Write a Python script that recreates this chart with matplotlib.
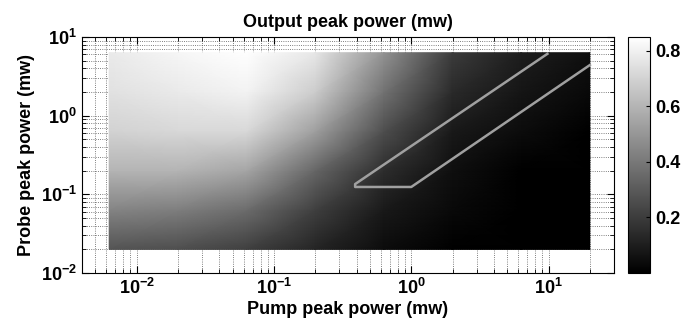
import numpy as np
import matplotlib
matplotlib.use('Agg')
import matplotlib.pyplot as plt
from matplotlib.ticker import LogLocator, NullFormatter

plt.rcParams['font.family'] = ['Liberation Sans', 'DejaVu Sans']
plt.rcParams['font.weight'] = 'bold'
plt.rcParams['mathtext.fontset'] = 'custom'
plt.rcParams['mathtext.rm'] = 'Liberation Sans:bold'
plt.rcParams['mathtext.bf'] = 'Liberation Sans:bold'
plt.rcParams['mathtext.it'] = 'Liberation Sans:bold'

# grid nodes (log10 of power, mw) where the output level was read
pump_log = [-2.2, -1.7, -1.2, -0.7, -0.2, 0.3, 0.8, 1.3]
probe_log = [-1.7, -1.2, -0.7, -0.2, 0.3, 0.8]

# output peak power, rows = probe (bottom to top)
output_power = [
    [0.28, 0.26, 0.21, 0.12, 0.04, 0.00, 0.00, 0.00],
    [0.44, 0.42, 0.36, 0.21, 0.085, 0.03, 0.00, 0.00],
    [0.60, 0.60, 0.55, 0.34, 0.15, 0.05, 0.00, 0.00],
    [0.70, 0.72, 0.72, 0.53, 0.26, 0.085, 0.04, 0.00],
    [0.75, 0.78, 0.81, 0.68, 0.38, 0.14, 0.07, 0.03],
    [0.78, 0.82, 0.85, 0.77, 0.49, 0.20, 0.10, 0.05],
]

# boundary of the operating region (gray outline)
region_pump = [9.8, 0.39, 0.39, 1.0, 20.0]
region_probe = [6.1, 0.135, 0.124, 0.124, 4.4]

pump = 10.0 ** np.array(pump_log)
probe = 10.0 ** np.array(probe_log)
P, Q = np.meshgrid(pump, probe)
Z = np.array(output_power)

fig = plt.figure(figsize=(6.91, 3.32), dpi=100)
ax = fig.add_axes([0.1187, 0.1777, 0.77, 0.711])
cax = fig.add_axes([0.9088, 0.1777, 0.032, 0.711])

ax.set_xscale('log')
ax.set_yscale('log')
ax.set_xlim(0.004, 30)
ax.set_ylim(0.01, 10)

ax.set_axisbelow(True)
ax.grid(True, which='major', linestyle=':', color='#555555', linewidth=0.6)
ax.grid(True, which='minor', linestyle=':', color='#555555', linewidth=0.6)

mesh = ax.pcolormesh(P, Q, Z, shading='gouraud', cmap='gray', vmin=0.0, vmax=0.85, zorder=2)
ax.plot(region_pump, region_probe, color='#a0a0a0', linewidth=1.8, zorder=3)

ax.xaxis.set_major_locator(LogLocator(base=10, numticks=10))
ax.yaxis.set_major_locator(LogLocator(base=10, numticks=10))
ax.xaxis.set_minor_locator(LogLocator(base=10, subs=np.arange(2, 10), numticks=20))
ax.yaxis.set_minor_locator(LogLocator(base=10, subs=np.arange(2, 10), numticks=20))
ax.xaxis.set_minor_formatter(NullFormatter())
ax.yaxis.set_minor_formatter(NullFormatter())
ax.tick_params(which='both', direction='in', top=True, right=True, labelsize=13)
ax.tick_params(which='major', length=5)
ax.tick_params(which='minor', length=3)
for lab in ax.get_xticklabels() + ax.get_yticklabels():
    lab.set_fontweight('bold')

ax.set_title('Output peak power (mw)', fontsize=13, fontweight='bold', pad=7)
ax.set_xlabel('Pump peak power (mw)', fontsize=13, fontweight='bold', labelpad=2)
ax.set_ylabel('Probe peak power (mw)', fontsize=13, fontweight='bold', labelpad=4)

cb = fig.colorbar(mesh, cax=cax)
cb.set_ticks([0.2, 0.4, 0.6, 0.8])
cb.ax.tick_params(direction='in', length=3, labelsize=13)
for lab in cb.ax.get_yticklabels():
    lab.set_fontweight('bold')
cb.outline.set_linewidth(0.8)

fig.savefig('out.png', dpi=100)
